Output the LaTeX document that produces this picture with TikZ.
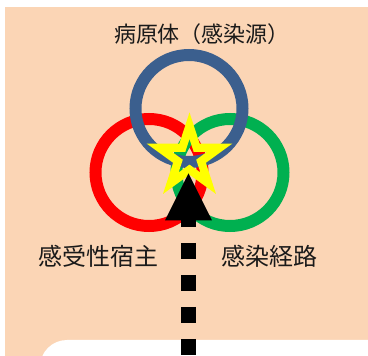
\documentclass[tikz,border=0pt]{standalone}
\usepackage{fontspec}
\newfontfamily\jp{Noto Sans CJK JP}
\definecolor{peach}{HTML}{FBD5B5}
\definecolor{ringblue}{HTML}{3B5F8E}
\definecolor{ringred}{HTML}{FF0000}
\definecolor{ringgreen}{HTML}{00B050}
\definecolor{staryellow}{HTML}{FFFF00}
\definecolor{txt}{HTML}{1A1A1A}
\begin{document}
\begin{tikzpicture}[x=1pt,y=-1pt,
  ring/.style={circle, draw=#1, line width=12pt, minimum size=107pt, inner sep=0pt, outer sep=0pt},
  lbl/.style={inner sep=0pt, anchor=base, text=txt, font=\jp\fontsize{#1}{#1}\selectfont},
  dashline/.style={draw=black, line width=15pt, dash pattern=on 16pt off 16pt, line cap=butt}]
\useasboundingbox (0,0) rectangle (368,356);
\clip (0,0) rectangle (368,356);
\fill[white] (0,0) rectangle (368,356);
\fill[peach] (5,7) rectangle (372,360);
\fill[white, rounded corners=27pt] (40,340) rectangle (420,420);
% rings
\node[ring=ringred] (red) at (149,172.5) {};
\node[ring=ringgreen] (green) at (230,172.5) {};
\node[ring=ringblue] (blue) at (189,108.5) {};
% star
\coordinate (sc) at (189.5,157.5);
\draw[staryellow, line width=8.2pt, miter limit=10, line join=miter]
  ({189.5+31.8*cos(-90)},{157.5+31.8*sin(-90)})
  \foreach \i in {0,...,4}{
    -- ({189.5+12.15*cos(-90+36+72*\i)},{157.5+12.15*sin(-90+36+72*\i)})
    -- ({189.5+31.8*cos(-90+72+72*\i)},{157.5+31.8*sin(-90+72+72*\i)})
  } -- cycle;
% arrow
\coordinate (dtop) at (188.5,211);
\coordinate (dbot) at (188.5,360);
\path[dashline] (dtop) -- (dbot);
\coordinate (tip) at (188.5,173.3);
\coordinate (bl) at (165,220.5);
\coordinate (br) at (212,220.5);
\fill[black] (tip) -- (bl) -- (br) -- cycle;
% labels
\node[lbl=22] (pathogen) at (202,42.5) {病原体（感染源）};
\node[lbl=24] (host) at (98.5,265.5) {感受性宿主};
\node[lbl=24] (route) at (269.5,265.5) {感染経路};
\end{tikzpicture}
\end{document}
